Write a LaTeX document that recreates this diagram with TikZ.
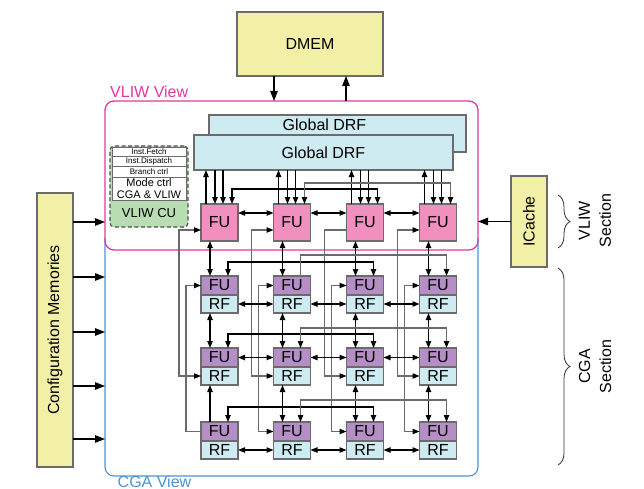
\documentclass[tikz,border=0pt]{standalone}
\usepackage{graphicx}
\usepackage{fontspec}
\setmainfont{Liberation Sans}
\usetikzlibrary{arrows.meta,decorations.pathreplacing}

\definecolor{memyellow}{HTML}{F2F0A7}
\definecolor{fupink}{HTML}{F18FBF}
\definecolor{fupurple}{HTML}{B58EC5}
\definecolor{rfblue}{HTML}{CEEBF1}
\definecolor{cugreen}{HTML}{B9DDB2}
\definecolor{vliwpink}{HTML}{E0399B}
\definecolor{cgablue}{HTML}{4C94D2}
\definecolor{edgegray}{HTML}{6B6B6B}
\definecolor{wiregray}{HTML}{6A6A6A}

\tikzset{
  box/.style={draw=edgegray, line width=1.1pt, inner sep=0pt, outer sep=0pt,
    font=\fontsize{16}{16}\selectfont},
  mem/.style={box, fill=memyellow},
  vliwfu/.style={box, fill=fupink, minimum width=37pt, minimum height=37pt},
  cgafu/.style={box, fill=fupurple, minimum width=37pt, minimum height=19pt},
  cgarf/.style={box, fill=rfblue, minimum width=37pt, minimum height=18pt},
  drfbox/.style={box, fill=rfblue},
  cell/.style={draw=edgegray, line width=0.8pt, fill=white, inner sep=0pt,
    minimum width=74pt, font=\fontsize{8}{8}\selectfont},
  txt/.style={inner sep=0pt, font=\fontsize{16}{16}\selectfont},
  wire/.style={line width=1.05pt, draw=black},
  gwire/.style={line width=1.05pt, draw=wiregray},
  arr/.style={-{Triangle[length=7pt,width=5.4pt,color=black]}},
  arrr/.style={{Triangle[length=7pt,width=5.4pt,color=black]}-},
  arrb/.style={{Triangle[length=7pt,width=5.4pt,color=black]}-{Triangle[length=7pt,width=5.4pt,color=black]}},
  bigarr/.style={line width=1.1pt, -{Triangle[length=10pt,width=7.5pt]}},
  sectbrace/.style={black!80, line width=0.8pt, decorate, decoration={brace, amplitude=12pt}},
  sectlabel/.style={rotate=90, align=center, inner sep=0pt, font=\fontsize{16}{21}\selectfont},
}

\begin{document}
\begin{tikzpicture}[x=1pt,y=-1pt]
\useasboundingbox (0,0) rectangle (644,489);

% CGA view frame; its top edge runs under the VLIW frame
\draw[cgablue, line width=1.1pt, rounded corners=9pt]
  (105,238) -- (105,476) -- (478,476) -- (478,238);
\node[draw=vliwpink, line width=1.3pt, rounded corners=9pt, minimum width=373pt,
  minimum height=149pt, inner sep=0pt, outer sep=0pt] (vliw) at (291.5,175.5) {};
\node[txt, text=vliwpink, anchor=base west] (vliwname) at (110,97.5) {VLIW View};
\node[txt, text=cgablue, anchor=base west] (cganame) at (117.5,487) {CGA View};

% memories
\node[mem, minimum width=146pt, minimum height=64pt] (dmem) at (310,44) {DMEM};
\node[mem, minimum width=36pt, minimum height=274pt] (cfg) at (55,330)
  {\rotatebox{90}{Configuration Memories}};
\node[mem, minimum width=36pt, minimum height=91pt] (icache) at (529,221.5)
  {\rotatebox{90}{ICache}};

% global data register files
\node[drfbox, minimum width=257pt, minimum height=37pt] (drfback) at (337.5,133.5) {};
\node[txt] (drfbacktext) at (324.5,125) {Global DRF};
\node[drfbox, minimum width=259pt, minimum height=35pt] (drf) at (323.5,152.5) {Global DRF};

% VLIW control unit
\node[draw=black!70, line width=1.1pt, dash pattern=on 4pt off 2.5pt, fill=cugreen,
  rounded corners=4pt, minimum width=78pt, minimum height=81pt, inner sep=0pt]
  (cu) at (149,186.5) {};
\node[cell, minimum height=9.4pt] (fetch) at (149,152) {Inst.Fetch};
\node[cell, minimum height=9.3pt] (dispatch) at (149,161.35) {Inst.Dispatch};
\node[cell, minimum height=11.3pt] (branch) at (149,171.65) {Branch ctrl};
\node[cell, minimum height=22.7pt, align=center, font=\fontsize{11}{11.3}\selectfont]
  (mode) at (149,188.65) {Mode ctrl\\CGA \& VLIW};
\node[inner sep=0pt, font=\fontsize{13}{13}\selectfont] (cuname) at (149,213) {VLIW CU};

% functional units and register files
\foreach \c/\x in {1/219.5,2/292,3/365,4/438} {
  \node[vliwfu] (vfu\c) at (\x,222.5) {FU};
  \node[cgafu] (fu1\c) at (\x,285.5) {FU};
  \node[cgarf] (rf1\c) at (\x,304) {RF};
  \node[cgafu] (fu2\c) at (\x,357.5) {FU};
  \node[cgarf] (rf2\c) at (\x,376) {RF};
  \node[cgafu] (fu3\c) at (\x,431.5) {FU};
  \node[cgarf] (rf3\c) at (\x,450) {RF};
}

% port positions
\foreach \c in {1,...,4} {
  \path (vfu\c.north west) ++(5,0) coordinate (vu\c) ++(9,0) coordinate (vd\c)
    ++(8,0) coordinate (ve\c) ++(9,0) coordinate (vt\c);
  \path (vfu\c.south west) ++(9,0) coordinate (vb\c);
  \path (vfu\c.south west) ++(-22,0) coordinate (la\c) ++(7,0) coordinate (lb\c);
  \foreach \r in {1,2,3} {
    \path (fu\r\c.north west) ++(9,0) coordinate (cv\r\c) ++(18,0) coordinate (ct\r\c);
  }
}

% routing levels
\coordinate (lvA0) at (0,189);
\coordinate (lvB0) at (0,183);
\coordinate (lvA1) at (0,262);
\coordinate (lvB1) at (0,255);
\coordinate (lvA2) at (0,334);
\coordinate (lvB2) at (0,328);
\coordinate (lvA3) at (0,407);
\coordinate (lvB3) at (0,400);
\coordinate (lvF) at (0,230);
\coordinate (lvH) at (0,213);

% register file ports of the VLIW units and vertical links
\foreach \c in {1,...,4} {
  \draw[wire,arr] (vu\c) -- (vu\c |- drf.south);
  \draw[wire,arr] (vd\c |- drf.south) -- (vd\c);
  \draw[wire,arr] (ve\c |- drf.south) -- (ve\c);
  \draw[wire,arrb] (vb\c) -- (vb\c |- fu1\c.north);
  \draw[wire,arrb] (cv2\c |- rf1\c.south) -- (cv2\c);
}
\foreach \c/\st in {1/arrr,2/arrb,3/arrb,4/arrb}
  \draw[wire,\st] (cv3\c |- rf2\c.south) -- (cv3\c);

% column wires on the left of each column
\foreach \c/\st in {1/arrb,2/arrb,3/arr,4/arrb}
  \draw[gwire,\st] (vfu\c.west |- lvF) -- (la\c |- lvF) -- (la\c |- rf2\c.west) -- (rf2\c.west);
\foreach \c/\st in {1/arrr,2/arrb,3/arrb,4/arrb}
  \draw[gwire,\st] (fu1\c.west) -- (lb\c |- fu1\c.west) -- (lb\c |- fu3\c.west) -- (fu3\c.west);

% row wires over the units
\draw[wire,arrb] (vt1) -- (vt1 |- lvA0) -- (vt3 |- lvA0) -- (vt3);
\draw[gwire,arrb] (vt2) -- (vt2 |- lvB0) -- (vt4 |- lvB0) -- (vt4);
\foreach \r/\st in {1/arr,2/arrb,3/arrb} {
  \draw[wire,arrb] (ct\r1) -- (ct\r1 |- lvA\r) -- (ct\r3 |- lvA\r) -- (ct\r3);
  \draw[gwire,\st] (ct\r2) -- (ct\r2 |- lvB\r) -- (ct\r4 |- lvB\r) -- (ct\r4);
}

% neighbour links
\foreach \a/\b in {1/2,2/3,3/4} {
  \draw[wire,arrb] (vfu\a.east |- lvH) -- (vfu\b.west |- lvH);
  \draw[wire,arrb] (rf1\a.east) -- (rf1\b.west);
  \draw[wire,arrb] (fu2\a.east) -- (fu2\b.west);
  \draw[wire,arrb] (rf3\a.east) -- (rf3\b.west);
}

% memory interfaces
\coordinate (dmx1) at (274,0);
\coordinate (dmx2) at (346,0);
\draw[bigarr] (dmx1 |- dmem.south) -- (dmx1 |- vliw.north);
\draw[bigarr] (dmx2 |- vliw.north) -- (dmx2 |- dmem.south);
\draw[bigarr] (icache.west) -- (vliw.east |- icache.west);
\foreach \i/\y in {1/222,2/277,3/332,4/386,5/439} {
  \coordinate (cl\i) at (0,\y);
  \draw[bigarr] (cfg.east |- cl\i) -- (vliw.west |- cl\i);
}

% section braces
\coordinate (vsecA) at (558,195);
\coordinate (vsecB) at (558,248);
\coordinate (csecA) at (558,268);
\coordinate (csecB) at (558,465);
\draw[sectbrace] (vsecA) -- (vsecB);
\draw[sectbrace] (csecA) -- (csecB);
\node[sectlabel] (vsec) at (595,220.5) {VLIW\\Section};
\node[sectlabel] (csec) at (595,366.5) {CGA\\Section};
\end{tikzpicture}
\end{document}
